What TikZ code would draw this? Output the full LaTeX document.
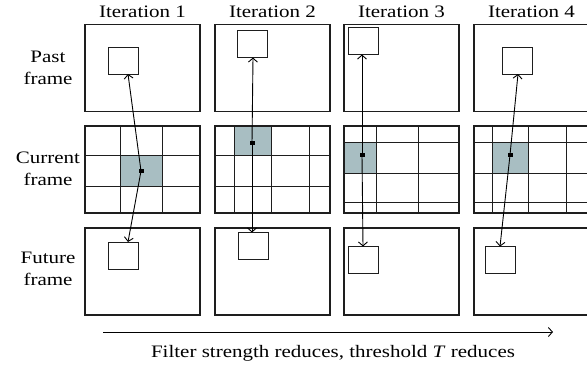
\documentclass[tikz,border=0pt]{standalone}
\usepackage{fontspec}
\setmainfont{Liberation Serif}[FakeStretch=1.2]
\usetikzlibrary{arrows.meta}
\definecolor{shade}{RGB}{168,190,194}
\definecolor{ink}{RGB}{30,30,30}
\begin{document}
\begin{tikzpicture}[x=1pt,y=-1pt,
  frm/.style={draw=ink,line width=1.1pt,inner sep=0pt,outer sep=0pt,minimum width=115pt,minimum height=87pt},
  sq/.style={draw=ink,line width=1pt,inner sep=0pt,outer sep=0pt,minimum width=30pt,minimum height=27pt},
  gridln/.style={draw=ink,line width=1pt},
  cell/.style={fill=shade},
  blk/.style={fill=black,inner sep=0pt,outer sep=0pt,minimum width=5pt,minimum height=4pt},
  arr/.style={draw=black,line width=0.9pt,-{Straight Barb[length=4pt,width=9pt]}},
  lbl/.style={font=\fontsize{17.5}{22}\selectfont,inner sep=0pt,align=center},
]
\useasboundingbox (0,0) rectangle (587,368);
\clip (0,0) rectangle (587,368);

% column titles
\node[lbl,anchor=base] (t1) at (142.5,17) {Iteration 1};
\node[lbl,anchor=base] (t2) at (272.5,17) {Iteration 2};
\node[lbl,anchor=base] (t3) at (401.5,17) {Iteration 3};
\node[lbl,anchor=base] (t4) at (531.5,17) {Iteration 4};

% row labels
\node[lbl] (rp) at (48,68) {Past\\frame};
\node[lbl] (rc) at (48,169) {Current\\frame};
\node[lbl] (rf) at (48,269) {Future\\frame};

% shaded cells
\fill[cell] (120,155) rectangle (162,186);
\fill[cell] (234,126) rectangle (271,155);
\fill[cell] (344,142) rectangle (376,173);
\fill[cell] (492,142) rectangle (528,173);

% frames
\node[frm] (p1) at (142.5,68) {};
\node[frm] (p2) at (272.5,68) {};
\node[frm] (p3) at (401.5,68) {};
\node[frm] (p4) at (531.5,68) {};
\node[frm] (c1) at (142.5,169.5) {};
\node[frm] (c2) at (272.5,169.5) {};
\node[frm] (c3) at (401.5,169.5) {};
\node[frm] (c4) at (531.5,169.5) {};
\node[frm] (f1) at (142.5,271.5) {};
\node[frm] (f2) at (272.5,271.5) {};
\node[frm] (f3) at (401.5,271.5) {};
\node[frm] (f4) at (531.5,271.5) {};

% block grids
\foreach \x in {120,162} \draw[gridln] (c1.north -| \x,0) -- (c1.south -| \x,0);
\foreach \y in {155,186} \draw[gridln] (c1.west |- 0,\y) -- (c1.east |- 0,\y);
\foreach \x in {234,271,309} \draw[gridln] (c2.north -| \x,0) -- (c2.south -| \x,0);
\foreach \y in {155,186} \draw[gridln] (c2.west |- 0,\y) -- (c2.east |- 0,\y);
\foreach \x in {376,418} \draw[gridln] (c3.north -| \x,0) -- (c3.south -| \x,0);
\foreach \y in {142,173,202} \draw[gridln] (c3.west |- 0,\y) -- (c3.east |- 0,\y);
\foreach \x in {492,528,566} \draw[gridln] (c4.north -| \x,0) -- (c4.south -| \x,0);
\foreach \y in {142,173,202} \draw[gridln] (c4.west |- 0,\y) -- (c4.east |- 0,\y);

% matched blocks in past and future frames
\node[sq] (pb1) at (123.5,60.5) {};
\node[sq] (pb2) at (252,44) {};
\node[sq] (pb3) at (363.5,41) {};
\node[sq] (pb4) at (517,60.5) {};
\node[sq] (fb1) at (123.5,255.5) {};
\node[sq] (fb2) at (253,246) {};
\node[sq] (fb3) at (363.5,260) {};
\node[sq] (fb4) at (500.5,260) {};

% current block markers
\node[blk] (d1) at (141,171) {};
\node[blk] (d2) at (252,143) {};
\node[blk] (d3) at (362,155) {};
\node[blk] (d4) at (510,155) {};

% motion arrows
\draw[arr] (d1.center) -- ([xshift=4.5pt]pb1.south);
\draw[arr] (d1.center) -- ([xshift=4.5pt]fb1.north);
\draw[arr] (d2.center) -- ([xshift=1pt]pb2.south);
\draw[arr] (d2.center) -- ([xshift=-1pt]fb2.north);
\draw[arr] (d3.center) -- ([xshift=-1.5pt]pb3.south);
\draw[arr] (d3.center) -- ([xshift=-0.5pt]fb3.north);
\draw[arr] (d4.center) -- ([xshift=1pt]pb4.south);
\draw[arr] (d4.center) -- ([xshift=-0.5pt]fb4.north);

% bottom axis
\coordinate (a0) at (103,332);
\coordinate (a1) at (553,332);
\draw[arr] (a0) -- (a1);
\node[lbl,anchor=base] (cap) at (333,357) {Filter strength reduces, threshold \textit{T} reduces};
\end{tikzpicture}
\end{document}
